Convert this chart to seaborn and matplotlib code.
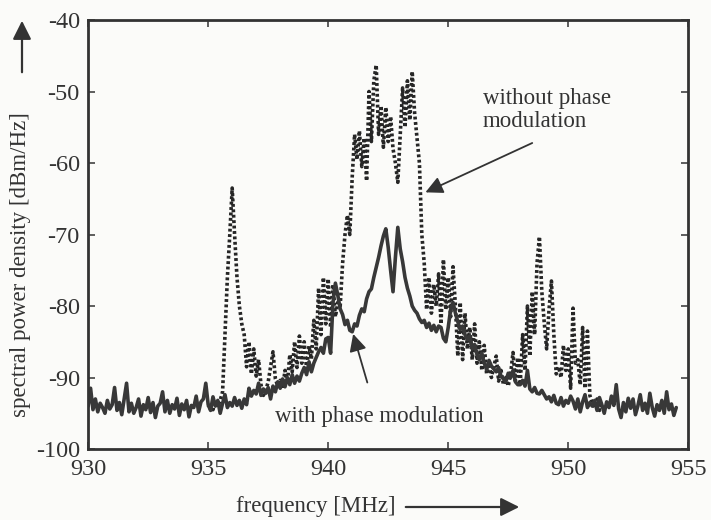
import numpy as np
import pandas as pd
import matplotlib
matplotlib.use('Agg')
import matplotlib.pyplot as plt
import seaborn as sns

# frequency grids of the two measured spectra [MHz]
freq_with = np.round(np.arange(930.0, 954.55, 0.1), 1)
freq_without = np.round(np.arange(935.0, 951.45, 0.1), 1)

# spectral power density with phase modulation [dBm/Hz] (one row per MHz)
psd_with = [
    -94.0, -91.5, -94.5, -93.0, -94.8, -93.6, -94.2, -95.0, -93.2, -94.4,  # 930
    -93.8, -91.4, -94.6, -93.5, -95.2, -93.0, -90.8, -94.8, -93.6, -95.0,  # 931
    -94.2, -93.0, -95.4, -93.8, -94.5, -92.8, -94.9, -93.5, -95.6, -94.0,  # 932
    -93.6, -92.0, -94.8, -93.2, -95.0, -93.8, -94.4, -92.9, -95.3, -93.7,  # 933
    -94.5, -93.2, -95.5, -93.9, -94.2, -92.6, -94.8, -93.4, -93.0, -90.8,  # 934
    -93.8, -94.6, -92.7, -94.0, -93.2, -95.0, -93.6, -92.4, -94.2, -93.5,  # 935
    -94.0, -92.8, -93.9, -93.2, -94.3, -93.0, -93.8, -91.5, -92.6, -91.8,  # 936
    -92.3, -90.8, -92.5, -91.6, -92.2, -91.4, -93.0, -91.2, -92.0, -90.6,  # 937
    -91.5, -90.2, -91.3, -90.0, -91.0, -89.6, -90.8, -89.8, -90.5, -89.4,  # 938
    -88.6, -89.6, -87.8, -89.2, -88.0, -87.2, -86.4, -85.8, -86.6, -84.6,  # 939
    -84.4, -86.6, -79.5, -76.8, -78.5, -80.4, -81.2, -82.6, -82.0, -83.4,  # 940
    -83.6, -82.5, -82.8, -81.3, -80.4, -80.8, -79.0, -78.0, -77.6, -76.0,  # 941
    -74.6, -73.2, -71.6, -70.2, -69.2, -71.8, -75.0, -78.0, -73.2, -69.0,  # 942
    -72.0, -73.8, -76.0, -77.5, -78.6, -80.0, -80.6, -81.0, -81.8, -82.3,  # 943
    -82.0, -83.0, -82.4, -83.4, -82.7, -83.6, -82.8, -83.0, -84.5, -85.0,  # 944
    -83.0, -80.5, -79.5, -81.0, -82.2, -83.3, -82.8, -84.0, -84.7, -84.2,  # 945
    -86.0, -85.4, -86.8, -87.5, -86.6, -88.0, -88.9, -87.6, -88.4, -88.8,  # 946
    -89.2, -88.6, -89.8, -90.2, -90.6, -89.4, -90.0, -89.0, -90.6, -91.0,  # 947
    -91.0, -90.4, -91.2, -89.0, -91.6, -92.0, -91.4, -92.2, -92.3, -91.8,  # 948
    -92.4, -93.0, -92.7, -93.4, -92.5, -93.6, -93.8, -92.8, -94.0, -93.2,  # 949
    -93.6, -92.6, -93.3, -94.4, -93.0, -94.8, -93.4, -92.4, -94.2, -93.5,  # 950
    -94.0, -93.2, -94.6, -92.8, -93.8, -95.0, -93.4, -94.2, -92.6, -93.9,  # 951
    -91.0, -94.4, -95.6, -93.5, -94.8, -92.9, -94.3, -93.0, -95.2, -94.0,  # 952
    -92.4, -94.6, -93.6, -95.0, -92.2, -94.2, -95.4, -93.8, -94.6, -93.2,  # 953
    -95.0, -92.0, -94.5, -93.7, -95.3, -94.2,                              # 954
]

# spectral power density without phase modulation [dBm/Hz]
psd_without = [
    -94.2, -93.6, -94.5, -93.4, -94.0, -93.2, -92.0, -84.0, -76.0, -70.0,  # 935
    -63.5, -70.0, -76.0, -80.0, -82.5, -84.0, -88.5, -85.0, -89.5, -86.0,  # 936
    -89.8, -87.5, -91.0, -92.5, -91.8, -90.6, -88.5, -86.4, -90.2, -91.2,  # 937
    -90.4, -91.6, -89.0, -90.8, -86.8, -89.2, -85.0, -88.6, -84.2, -88.0,  # 938
    -85.0, -88.8, -85.6, -87.4, -82.0, -86.0, -77.5, -84.0, -76.0, -82.5,  # 939
    -76.2, -83.0, -77.0, -81.5, -79.5, -80.0, -74.0, -70.0, -67.3, -70.0,  # 940
    -62.0, -56.0, -59.5, -55.5, -60.5, -56.5, -62.5, -50.0, -57.0, -48.5,  # 941
    -46.3, -56.0, -52.0, -57.8, -52.2, -57.0, -53.5, -58.0, -60.0, -62.7,  # 942
    -56.0, -49.5, -55.0, -48.5, -54.0, -47.2, -53.0, -56.5, -60.0, -70.0,  # 943
    -74.0, -80.5, -76.0, -81.0, -77.0, -80.0, -75.5, -82.5, -73.5, -80.5,  # 944
    -76.0, -81.5, -74.5, -80.0, -87.0, -79.5, -87.5, -81.0, -86.0, -83.0,  # 945
    -87.5, -82.5, -88.0, -85.0, -89.0, -85.5, -89.5, -88.0, -90.0, -88.5,  # 946
    -87.0, -90.5, -89.0, -91.0, -90.0, -91.2, -89.5, -86.5, -90.5, -87.2,  # 947
    -91.0, -84.0, -89.0, -80.0, -87.0, -78.0, -84.0, -74.0, -70.3, -78.0,  # 948
    -82.3, -86.0, -80.5, -76.5, -84.0, -89.5, -88.5, -90.0, -85.5, -89.0,  # 949
    -86.0, -91.5, -80.3, -88.0, -87.5, -91.0, -83.0, -91.5, -83.5, -92.5,  # 950
    -93.5, -94.2, -93.0, -94.6, -93.8,                                     # 951
]

x_ticks = [930, 935, 940, 945, 950, 955]
y_ticks = [-100, -90, -80, -70, -60, -50, -40]

df_with = pd.DataFrame({'freq': freq_with, 'psd': psd_with})
df_without = pd.DataFrame({'freq': freq_without, 'psd': psd_without})

sns.set_style('ticks')
plt.rcParams['font.family'] = ['Liberation Serif', 'DejaVu Serif']
plt.rcParams['axes.unicode_minus'] = False

ink = '#333333'
paper = '#fbfbf9'

fig = plt.figure(figsize=(7.11, 5.2), dpi=100, facecolor=paper)
ax = fig.add_axes([0.124, 0.1365, 0.844, 0.825], facecolor=paper)

sns.lineplot(data=df_without, x='freq', y='psd', ax=ax, color='#262626',
             lw=2.6, linestyle=(0, (0.8, 0.7)), estimator=None)
sns.lineplot(data=df_with, x='freq', y='psd', ax=ax, color='#383838',
             lw=2.6, estimator=None)

ax.set_xlim(930, 955)
ax.set_ylim(-100, -40)
ax.set_xticks(x_ticks)
ax.set_yticks(y_ticks)
ax.tick_params(direction='in', length=5, width=1.1, top=True, right=True,
               labelsize=17.5, colors=ink)
ax.tick_params(axis='x', pad=7)
ax.tick_params(axis='y', pad=6)
for sp in ax.spines.values():
    sp.set_color(ink)
    sp.set_linewidth(2)

ax.set_xlabel('frequency [MHz]', fontsize=16.5, color=ink)
ax.set_ylabel('spectral power density [dBm/Hz]', fontsize=16.5, color=ink)
ax.xaxis.set_label_coords(0.38, -0.11)
ax.yaxis.set_label_coords(-0.095, 0.43)

# arrows next to the axis labels
arrow_kw = dict(arrowstyle='-|>', mutation_scale=28, lw=1.6, color=ink)
ax.annotate('', xy=(22, 502), xytext=(22, 445), xycoords='figure pixels',
            textcoords='figure pixels', arrowprops=arrow_kw)
ax.annotate('', xy=(522, 13), xytext=(403, 13), xycoords='figure pixels',
            textcoords='figure pixels', arrowprops=arrow_kw)

# curve annotations
note_kw = dict(arrowstyle='-|>', mutation_scale=26, lw=1.3, color=ink,
               shrinkA=0, shrinkB=0)
ax.text(946.45, -52.6, 'without phase\nmodulation', ha='left', va='center',
        fontsize=16.5, color=ink, linespacing=1.15)
ax.annotate('', xy=(944.05, -64.1), xytext=(948.5, -57.2), arrowprops=note_kw)
ax.text(937.8, -95.4, 'with phase modulation', ha='left', va='center',
        fontsize=16.5, color=ink)
ax.annotate('', xy=(941.04, -83.9), xytext=(941.63, -90.7), arrowprops=note_kw)

fig.savefig('out.png', dpi=100, facecolor=paper)
